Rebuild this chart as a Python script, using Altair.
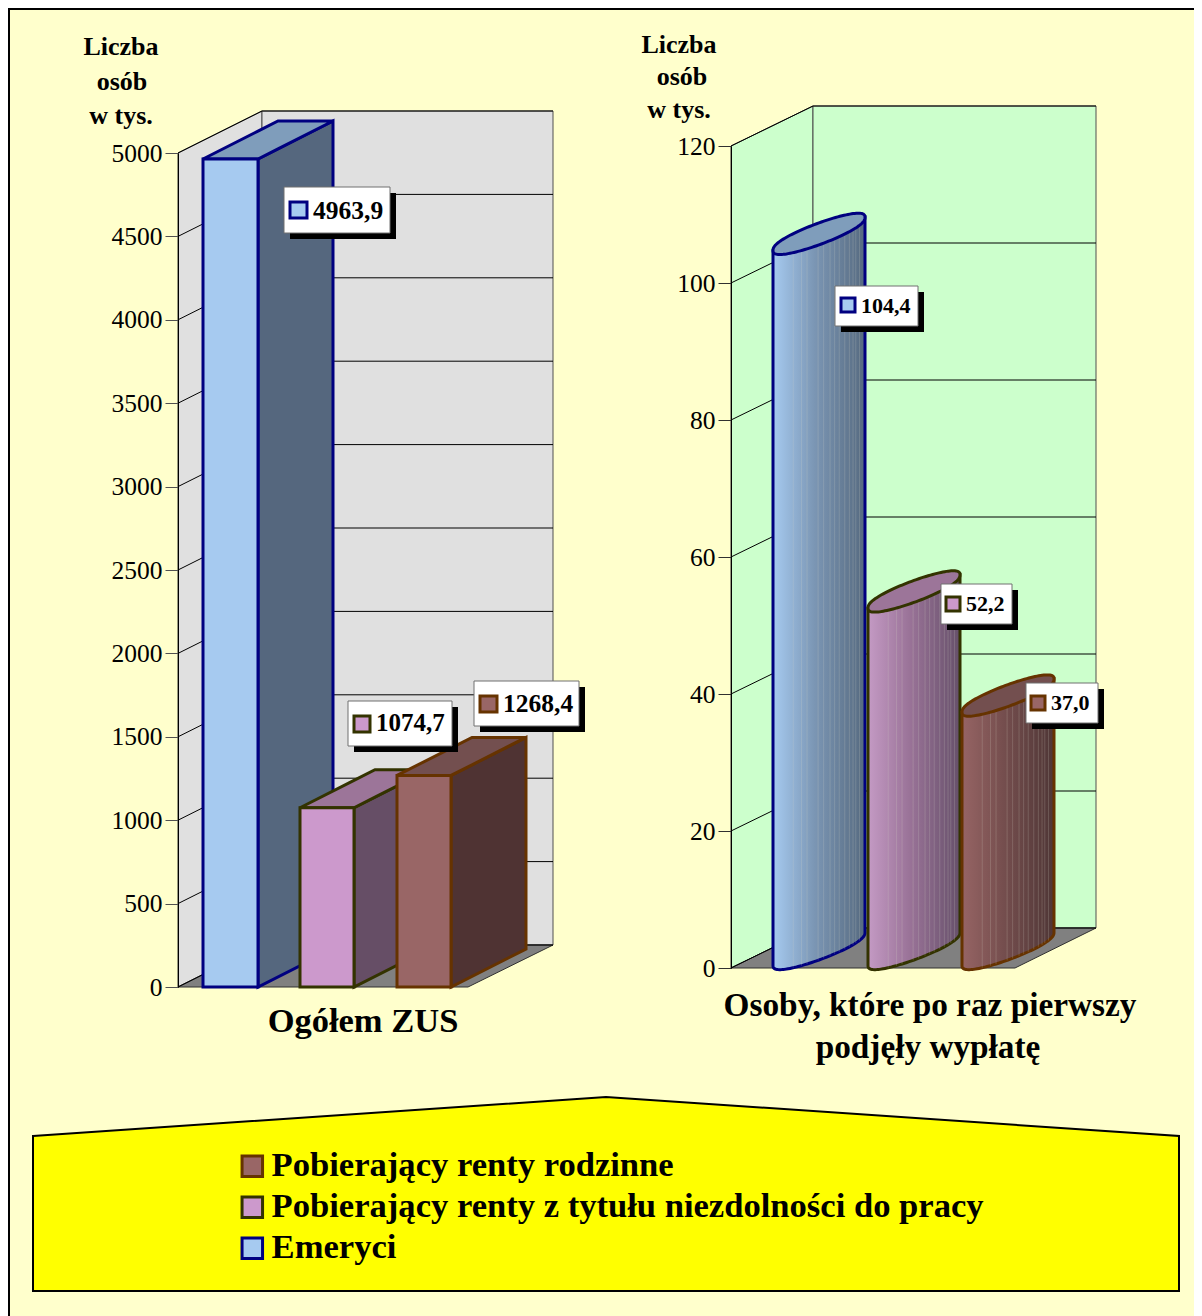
import numpy as np
import pandas as pd
import altair as alt

# ---- values
series = ["Pobierający renty rodzinne", "Pobierający renty z tytułu niezdolności do pracy", "Emeryci"]
left_values = {"Emeryci": 4963.9, "Pobierający renty z tytułu niezdolności do pracy": 1074.7, "Pobierający renty rodzinne": 1268.4}
right_values = {"Emeryci": 104.4, "Pobierający renty z tytułu niezdolności do pracy": 52.2, "Pobierający renty rodzinne": 37.0}
left_ticks = [0, 500, 1000, 1500, 2000, 2500, 3000, 3500, 4000, 4500, 5000]
right_ticks = [0, 20, 40, 60, 80, 100, 120]
draw_order = ["Emeryci", "Pobierający renty z tytułu niezdolności do pracy", "Pobierający renty rodzinne"]

# ---- styles
FONT = "Liberation Serif"
front = {series[2]: "#A6CAF0", series[1]: "#CC99CC", series[0]: "#996666"}
top = {series[2]: "#7F9DBB", series[1]: "#9C7599", series[0]: "#734F4F"}
side = {series[2]: "#55677E", series[1]: "#664E66", series[0]: "#4F3333"}
edge = {series[2]: "#000080", series[1]: "#333300", series[0]: "#663300"}

# ---- layout (all in page pixels)
W, H = 1186, 1308
XS = alt.Scale(domain=[8, 8 + W], range=[0, W], nice=False, zero=False)
PY = alt.Scale(domain=[8, 8 + H], range=[0, H], nice=False, zero=False)
LY = alt.Scale(domain=[0, 5000], range=[987 - 8, 153 - 8], nice=False, zero=False)
RY = alt.Scale(domain=[0, 120], range=[968 - 8, 146 - 8], nice=False, zero=False)
L_PPU = (987 - 153) / 5000
R_PPU = (968 - 146) / 120

X = alt.X("x:Q", scale=XS, axis=None)
X2 = alt.X2("x2")


def Yf(scale, field="y", axis=None):
    return alt.Y(f"{field}:Q", scale=scale, axis=axis, title=None)


Y2 = alt.Y2("y2")
layers = []


def area(rows, scale, **mark):
    df = pd.DataFrame(rows, columns=["x", "y", "y2"])
    layers.append(alt.Chart(df).mark_area(**mark).encode(x=X, y=Yf(scale), y2=Y2))


def rect(x, x2, y, y2, **mark):
    df = pd.DataFrame({"x": [x], "x2": [x2], "y": [y], "y2": [y2]})
    layers.append(alt.Chart(df).mark_rect(**mark).encode(x=X, x2=X2, y=Yf(PY), y2=Y2))


def text(s, x, y, size, align="center", weight="bold"):
    df = pd.DataFrame({"x": [x], "y": [y], "t": [s]})
    layers.append(
        alt.Chart(df)
        .mark_text(font=FONT, fontSize=size, fontWeight=weight, align=align, baseline="alphabetic", color="black")
        .encode(x=X, y=Yf(PY), text="t:N")
    )


def frame(x0, x1, dx, dv, xr, vmax, scale, fill):
    # left wall, back wall, floor
    area([(x0, vmax, 0), (x0 + dx, vmax + dv, dv)], scale, fill=fill, stroke="#303030", strokeWidth=1)
    area([(x0 + dx, vmax + dv, dv), (x1, vmax + dv, dv)], scale, fill=fill, stroke="#505050", strokeWidth=1)
    area([(x0, 0, 0), (x0 + dx, dv, 0), (xr, dv, 0), (x1, dv, dv)], scale, fill="#808080", stroke="#303030", strokeWidth=1)


def gridlines(ticks, x0, x1, dx, dv, scale, offset, tick_color):
    rows = []
    for t in ticks:
        rows += [(t, x0, t), (t, x0 + dx, t + dv), (t, x1, t + dv)]
    df = pd.DataFrame(rows, columns=["tick", "x", "y"])
    ax = alt.Axis(
        orient="left", offset=offset, values=ticks, format="d", title=None, grid=False, zindex=1,
        labelFont=FONT, labelFontSize=25.5, labelColor="black", labelPadding=3, tickSize=13,
        tickColor=tick_color, domainColor="black", domainWidth=1, labelFlush=False, labelOverlap=False,
    )
    layers.append(
        alt.Chart(df).mark_line(color="black", strokeWidth=1).encode(x=X, y=Yf(scale, axis=ax), detail="tick:N")
    )


# ---- page background and border
rect(9, 1300, 9, 1400, fill="#FFFFCC", stroke="black", strokeWidth=2)

# ---- left panel
L_DV = 42 / L_PPU
frame(178, 553, 84, L_DV, 468, 5000, LY, "#E0E0E0")
gridlines(left_ticks, 178, 553, 84, L_DV, LY, -170, "#505050")

bar_x = {series[2]: (203, 258), series[1]: (300, 354), series[0]: (397, 451)}
BDX, BDV = 75, 38 / L_PPU
for s in draw_order:
    v = left_values[s]
    a, b = bar_x[s]
    area([(b, v, 0), (b + BDX, v + BDV, BDV)], LY, fill=side[s], stroke=edge[s], strokeWidth=3)
    f = (b - a) / BDX
    area(
        [(a, v, v), (b, v + BDV * f, v), (a + BDX, v + BDV, v + BDV * (1 - f)), (b + BDX, v + BDV, v + BDV)],
        LY, fill=top[s], stroke=edge[s], strokeWidth=3,
    )

bars = pd.DataFrame(
    {
        "series": draw_order,
        "x": [bar_x[s][0] for s in draw_order],
        "x2": [bar_x[s][1] for s in draw_order],
        "y": [left_values[s] for s in draw_order],
        "y2": [0, 0, 0],
    }
)
legend = alt.Legend(
    orient="none", legendX=227, legendY=1141, title=None, symbolType="square", symbolSize=420,
    symbolStrokeWidth=3, labelFont=FONT, labelFontSize=34.6, labelFontWeight="bold", labelColor="black",
    labelLimit=1000, labelOffset=2, rowPadding=6, padding=0, zindex=1, symbolOpacity=1,
)
legend_layer = alt.Chart(bars).mark_bar(strokeWidth=3).encode(
    x=X, x2=X2, y=Yf(LY), y2=Y2,
    fill=alt.Fill("series:N", scale=alt.Scale(domain=series, range=[front[s] for s in series]), legend=legend),
    stroke=alt.Stroke("series:N", scale=alt.Scale(domain=series, range=[edge[s] for s in series]), legend=legend),
)
layers.append(legend_layer)

# ---- right panel
R_DV = 40 / R_PPU
frame(731, 1096, 82, R_DV, 1015, 120, RY, "#CCFFCC")
gridlines(right_ticks, 731, 1096, 82, R_DV, RY, -723, "#303030")

cyl_x = {series[2]: 773, series[1]: 868, series[0]: 962}
cyl_left = {series[2]: "#A6CAF0", series[1]: "#C49AC4", series[0]: "#966464"}
cyl_mid = {series[2]: "#7B96B4", series[1]: "#9A7398", series[0]: "#754E4E"}
cyl_right = {series[2]: "#566A80", series[1]: "#66506A", series[0]: "#4F3636"}
facet_lines = [0.22, 0.31, 0.37, 0.49, 0.55, 0.62, 0.67, 0.72, 0.78, 0.83, 0.87, 0.90, 0.94]
A, SL, B, CUP = 46, 0.36, 11, 19
ROUND = 0.8  # squarish ends of the caps
ts = np.linspace(np.pi, 0, 61)
for s in draw_order:
    v = right_values[s]
    cx = cyl_x[s] + A
    c_top = v + CUP / R_PPU
    c_bot = CUP / R_PPU
    us = A * np.cos(ts)
    xs = cx + us
    sl = SL * us / R_PPU
    bb = B * np.abs(np.sin(ts)) ** ROUND / R_PPU
    grad = alt.LinearGradient(
        gradient="linear", x1=0, x2=1, y1=0, y2=0,
        stops=[
            alt.GradientStop(color=cyl_left[s], offset=0),
            alt.GradientStop(color=cyl_mid[s], offset=0.45),
            alt.GradientStop(color=cyl_right[s], offset=1),
        ],
    )
    area(list(zip(xs, c_top + sl, c_bot + sl - bb)), RY, fill=grad, stroke=edge[s], strokeWidth=3)
    rows = []
    for fr in facet_lines:
        u = (fr - 0.5) * 2 * A
        sq = (1 - (u / A) ** 2) ** (ROUND / 2) * B / R_PPU
        rows.append((cx + u, c_top + SL * u / R_PPU - sq, c_bot + SL * u / R_PPU - sq))
    df = pd.DataFrame(rows, columns=["x", "y", "y2"])
    layers.append(
        alt.Chart(df).mark_rule(color="#D8D8C8", opacity=0.2, strokeWidth=1).encode(x=X, y=Yf(RY), y2=Y2)
    )
    area(list(zip(xs, c_top + sl + bb, c_top + sl - bb)), RY, fill=top[s], stroke=edge[s], strokeWidth=3)

# ---- value labels
label_boxes = [
    (series[2], left_values, 284, 390, 187, 233, 290, 307, 202, 218, 313, 219, 25.5),
    (series[1], left_values, 348, 452, 701, 746, 354, 370, 716, 732, 376, 731, 25),
    (series[0], left_values, 474, 579, 681, 726, 480, 497, 696, 712, 503, 712, 25.5),
    (series[2], right_values, 835, 918, 286, 326, 841, 855, 298, 312, 861, 313, 22),
    (series[1], right_values, 941, 1012, 584, 624, 946, 960, 597, 611, 966, 611, 22),
    (series[0], right_values, 1026, 1098, 683, 723, 1031, 1045, 696, 710, 1051, 710, 22),
]
for s, vals, bx0, bx1, by0, by1, sx0, sx1, sy0, sy1, tx, ty, size in label_boxes:
    rect(bx0 + 6, bx1 + 6, by0 + 6, by1 + 6, fill="black")
    rect(bx0, bx1, by0, by1, fill="white", stroke="#707070", strokeWidth=1)
    rect(sx0, sx1, sy0, sy1, fill=front[s], stroke=edge[s], strokeWidth=3)
    text(f"{vals[s]:.1f}".replace(".", ","), tx, ty, size, align="left")

# ---- texts
for s, x, y in [("Liczba", 121, 55), ("osób", 122, 90), ("w tys.", 121, 124),
                ("Liczba", 679, 53), ("osób", 682, 85), ("w tys.", 679, 118)]:
    text(s, x, y, 26)
text("Ogółem ZUS", 363, 1032, 34.5)
text("Osoby, które po raz pierwszy", 930, 1016, 33.3)
text("podjęły wypłatę", 928, 1058, 33.3)

# ---- legend panel
area([(33, 1136, 1291), (606, 1097, 1291), (1179, 1136, 1291)], PY, fill="#FFFF00", stroke="black", strokeWidth=2)

chart = (
    alt.layer(*layers)
    .resolve_scale(y="independent", fill="independent", stroke="independent")
    .properties(width=W, height=H, padding=0, autosize=alt.AutoSizeParams(type="none"), background="white")
    .configure_view(stroke=None)
)
chart.save("out.html", embed_options={"renderer": "svg", "actions": False})
